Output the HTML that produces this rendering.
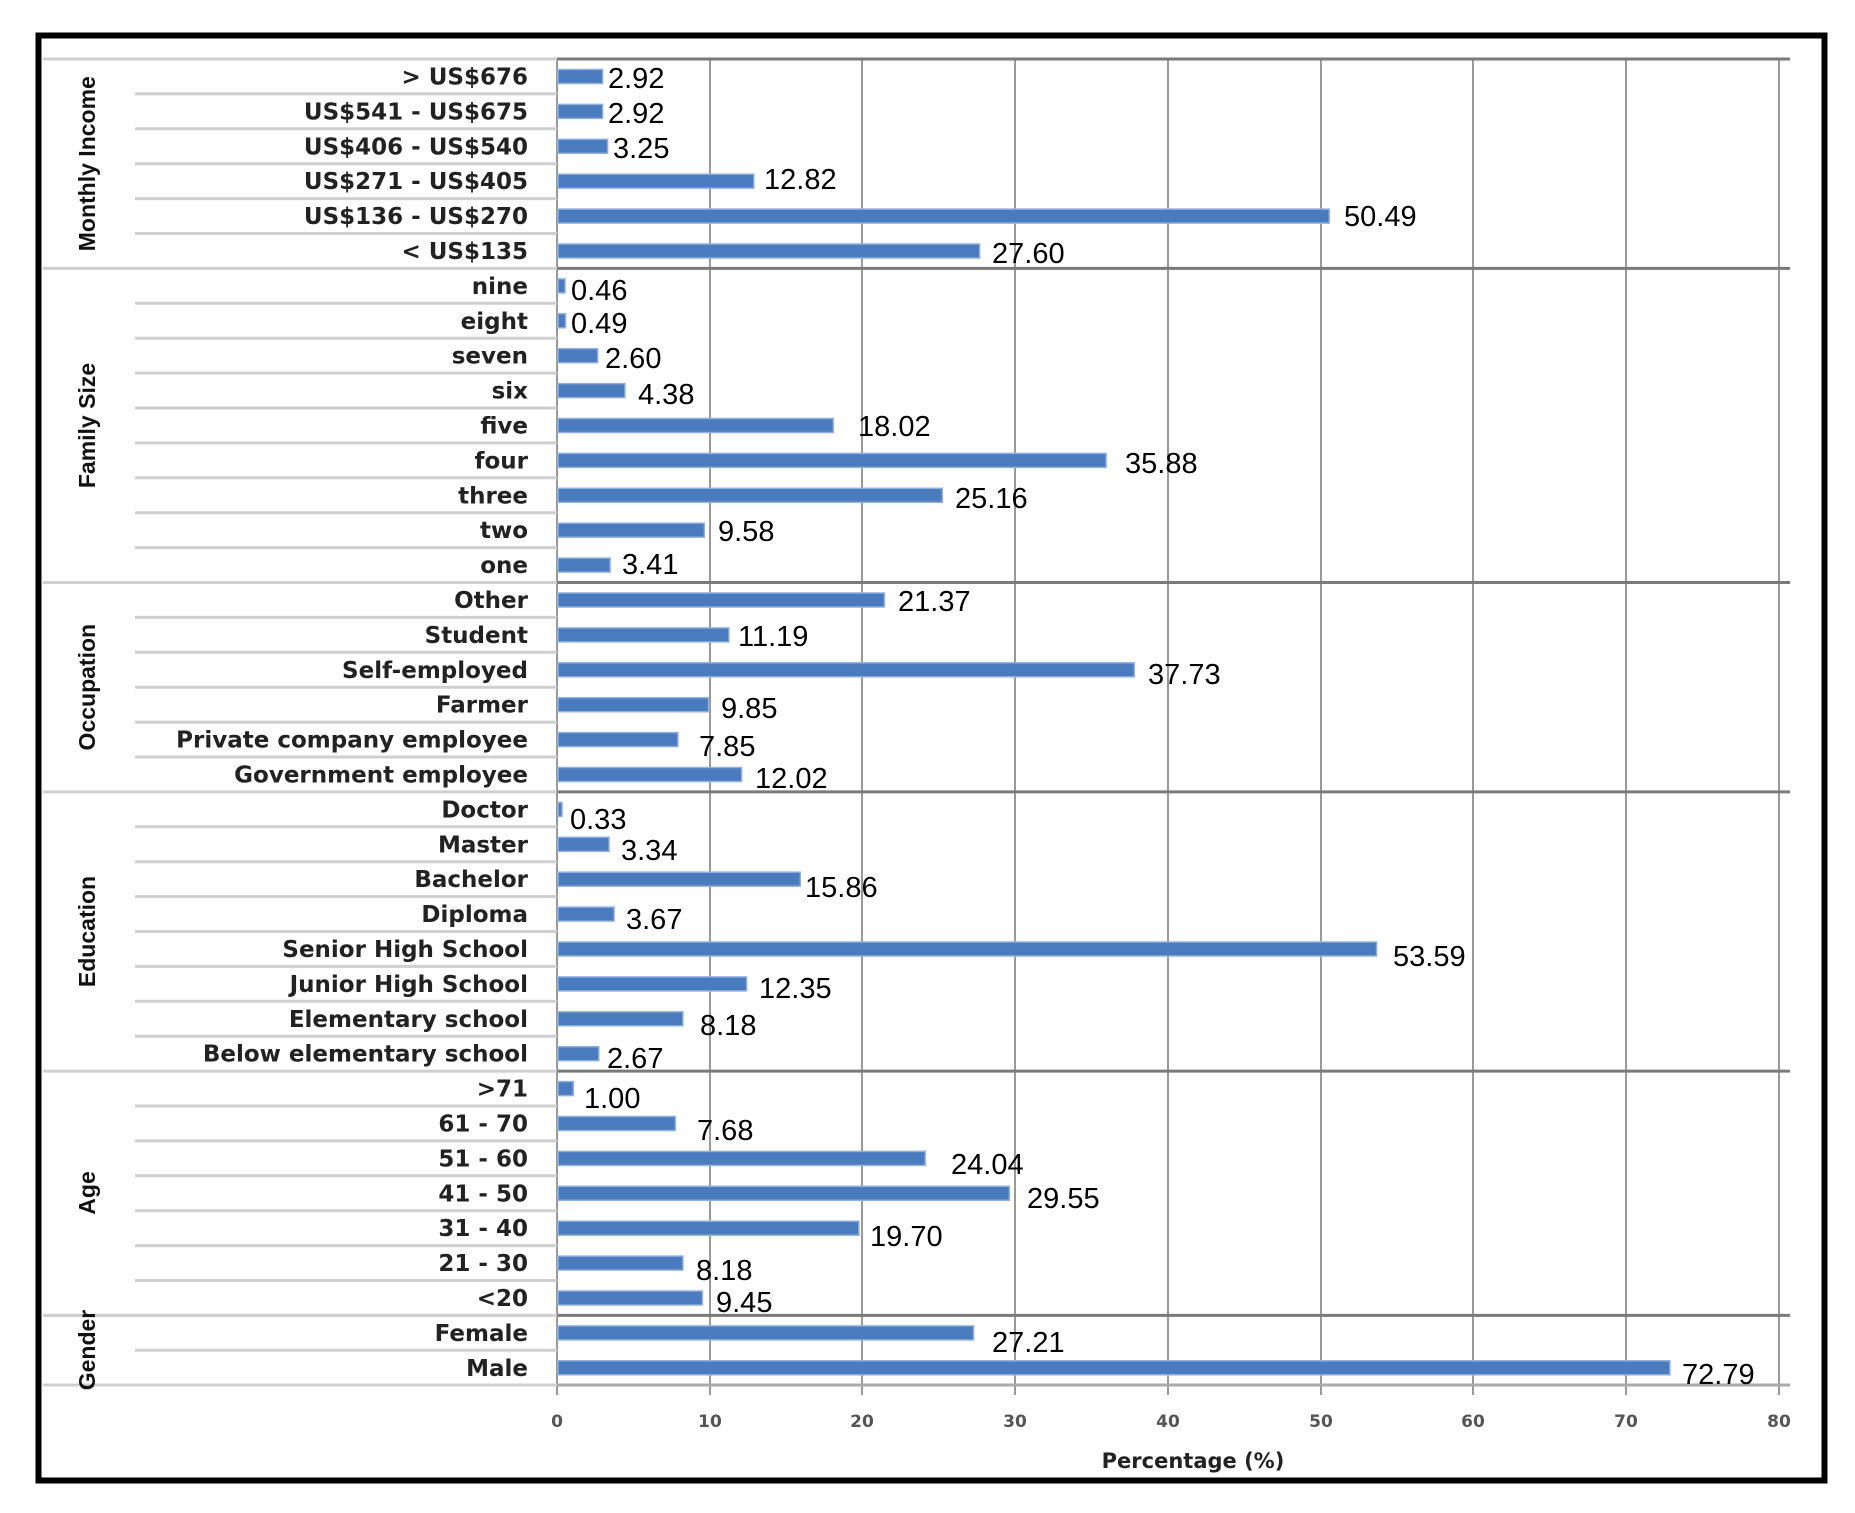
<!DOCTYPE html>
<html><head><meta charset="utf-8"><style>
html,body{margin:0;padding:0;background:#fff}
svg{display:block}
.l{font-family:"DejaVu Sans",sans-serif;font-weight:bold;font-size:23px;fill:#222;text-anchor:end}
.v{font-family:"Liberation Sans Narrow","Liberation Sans",sans-serif;font-size:29px;fill:#000}
.g{font-family:"Liberation Sans Narrow","Liberation Sans",sans-serif;font-weight:bold;font-size:23px;fill:#111;text-anchor:middle}
.t{font-family:"DejaVu Sans",sans-serif;font-weight:bold;font-size:17px;fill:#555;text-anchor:middle}
rect.b{fill:#4a7bbe;stroke:#8fb0dc;stroke-width:1.5}
</style></head><body>
<svg width="1855" height="1513" viewBox="0 0 1855 1513" xmlns="http://www.w3.org/2000/svg">
<rect x="38.5" y="35.5" width="1786" height="1445" fill="#fff" stroke="#000" stroke-width="6"/>
<g stroke="#999" stroke-width="2">
<line x1="557" y1="59" x2="557" y2="1395"/><line x1="710" y1="59" x2="710" y2="1395"/><line x1="862" y1="59" x2="862" y2="1395"/><line x1="1015" y1="59" x2="1015" y2="1395"/><line x1="1168" y1="59" x2="1168" y2="1395"/><line x1="1321" y1="59" x2="1321" y2="1395"/><line x1="1473" y1="59" x2="1473" y2="1395"/><line x1="1626" y1="59" x2="1626" y2="1395"/><line x1="1779" y1="59" x2="1779" y2="1395"/>
</g>
<g stroke="#cfcfcf" stroke-width="3">
<line x1="135" y1="93.9" x2="557" y2="93.9"/><line x1="135" y1="128.8" x2="557" y2="128.8"/><line x1="135" y1="163.7" x2="557" y2="163.7"/><line x1="135" y1="198.6" x2="557" y2="198.6"/><line x1="135" y1="233.5" x2="557" y2="233.5"/>
<line x1="135" y1="303.3" x2="557" y2="303.3"/><line x1="135" y1="338.2" x2="557" y2="338.2"/><line x1="135" y1="373.1" x2="557" y2="373.1"/><line x1="135" y1="408" x2="557" y2="408"/><line x1="135" y1="442.9" x2="557" y2="442.9"/><line x1="135" y1="477.8" x2="557" y2="477.8"/><line x1="135" y1="512.7" x2="557" y2="512.7"/><line x1="135" y1="547.6" x2="557" y2="547.6"/>
<line x1="135" y1="617.4" x2="557" y2="617.4"/><line x1="135" y1="652.3" x2="557" y2="652.3"/><line x1="135" y1="687.2" x2="557" y2="687.2"/><line x1="135" y1="722.1" x2="557" y2="722.1"/><line x1="135" y1="757" x2="557" y2="757"/>
<line x1="135" y1="826.8" x2="557" y2="826.8"/><line x1="135" y1="861.7" x2="557" y2="861.7"/><line x1="135" y1="896.6" x2="557" y2="896.6"/><line x1="135" y1="931.5" x2="557" y2="931.5"/><line x1="135" y1="966.4" x2="557" y2="966.4"/><line x1="135" y1="1001.3" x2="557" y2="1001.3"/><line x1="135" y1="1036.2" x2="557" y2="1036.2"/>
<line x1="135" y1="1106" x2="557" y2="1106"/><line x1="135" y1="1140.9" x2="557" y2="1140.9"/><line x1="135" y1="1175.8" x2="557" y2="1175.8"/><line x1="135" y1="1210.7" x2="557" y2="1210.7"/><line x1="135" y1="1245.6" x2="557" y2="1245.6"/><line x1="135" y1="1280.5" x2="557" y2="1280.5"/>
<line x1="135" y1="1350.3" x2="557" y2="1350.3"/>
<line x1="43" y1="59" x2="557" y2="59"/><line x1="43" y1="268.4" x2="557" y2="268.4"/><line x1="43" y1="582.5" x2="557" y2="582.5"/><line x1="43" y1="791.9" x2="557" y2="791.9"/><line x1="43" y1="1071.1" x2="557" y2="1071.1"/><line x1="43" y1="1315.4" x2="557" y2="1315.4"/><line x1="43" y1="1385" x2="557" y2="1385"/>
</g>
<g stroke="#7a7a7a" stroke-width="3">
<line x1="557" y1="59" x2="1790" y2="59"/><line x1="557" y1="268.4" x2="1790" y2="268.4"/><line x1="557" y1="582.5" x2="1790" y2="582.5"/><line x1="557" y1="791.9" x2="1790" y2="791.9"/><line x1="557" y1="1071.1" x2="1790" y2="1071.1"/><line x1="557" y1="1315.4" x2="1790" y2="1315.4"/>
</g>
<line x1="557" y1="1385" x2="1790" y2="1385" stroke="#aaa" stroke-width="3"/>
<text class="g" transform="translate(95,163.7) rotate(-90)">Monthly Income</text>
<text class="g" transform="translate(95,425.5) rotate(-90)">Family Size</text>
<text class="g" transform="translate(95,687.2) rotate(-90)">Occupation</text>
<text class="g" transform="translate(95,931.5) rotate(-90)">Education</text>
<text class="g" transform="translate(95,1193) rotate(-90)">Age</text>
<text class="g" transform="translate(95,1350) rotate(-90)">Gender</text>
<g>
<text class="l" x="528" y="84.5">&gt; US$676</text><rect class="b" x="558" y="69.5" width="44.6" height="14"/><text class="v" x="608" y="88">2.92</text>
<text class="l" x="528" y="119.4">US$541 - US$675</text><rect class="b" x="558" y="104.4" width="44.6" height="14"/><text class="v" x="608" y="123">2.92</text>
<text class="l" x="528" y="154.3">US$406 - US$540</text><rect class="b" x="558" y="139.3" width="49.6" height="14"/><text class="v" x="613" y="158">3.25</text>
<text class="l" x="528" y="189.2">US$271 - US$405</text><rect class="b" x="558" y="174.2" width="195.8" height="14"/><text class="v" x="764" y="189">12.82</text>
<text class="l" x="528" y="224.1">US$136 - US$270</text><rect class="b" x="558" y="209.1" width="771.2" height="14"/><text class="v" x="1344" y="226">50.49</text>
<text class="l" x="528" y="259">&lt; US$135</text><rect class="b" x="558" y="244" width="421.6" height="14"/><text class="v" x="992" y="263">27.60</text>

<text class="l" x="528" y="293.9">nine</text><rect class="b" x="558" y="278.9" width="7" height="14"/><text class="v" x="571" y="300">0.46</text>
<text class="l" x="528" y="328.8">eight</text><rect class="b" x="558" y="313.8" width="7.5" height="14"/><text class="v" x="571" y="333">0.49</text>
<text class="l" x="528" y="363.7">seven</text><rect class="b" x="558" y="348.7" width="39.7" height="14"/><text class="v" x="605" y="368">2.60</text>
<text class="l" x="528" y="398.6">six</text><rect class="b" x="558" y="383.6" width="66.9" height="14"/><text class="v" x="638" y="404">4.38</text>
<text class="l" x="528" y="433.5">five</text><rect class="b" x="558" y="418.5" width="275.3" height="14"/><text class="v" x="858" y="436">18.02</text>
<text class="l" x="528" y="468.4">four</text><rect class="b" x="558" y="453.4" width="548.1" height="14"/><text class="v" x="1125" y="473">35.88</text>
<text class="l" x="528" y="503.3">three</text><rect class="b" x="558" y="488.3" width="384.3" height="14"/><text class="v" x="955" y="508">25.16</text>
<text class="l" x="528" y="538.2">two</text><rect class="b" x="558" y="523.2" width="146.3" height="14"/><text class="v" x="718" y="541">9.58</text>
<text class="l" x="528" y="573.1">one</text><rect class="b" x="558" y="558.1" width="52.1" height="14"/><text class="v" x="622" y="574">3.41</text>

<text class="l" x="528" y="608">Other</text><rect class="b" x="558" y="593" width="326.4" height="14"/><text class="v" x="898" y="611">21.37</text>
<text class="l" x="528" y="642.9">Student</text><rect class="b" x="558" y="627.9" width="170.9" height="14"/><text class="v" x="738" y="646">11.19</text>
<text class="l" x="528" y="677.8">Self-employed</text><rect class="b" x="558" y="662.8" width="576.3" height="14"/><text class="v" x="1148" y="684">37.73</text>
<text class="l" x="528" y="712.7">Farmer</text><rect class="b" x="558" y="697.7" width="150.5" height="14"/><text class="v" x="721" y="718">9.85</text>
<text class="l" x="528" y="747.6">Private company employee</text><rect class="b" x="558" y="732.6" width="119.9" height="14"/><text class="v" x="699" y="756">7.85</text>
<text class="l" x="528" y="782.5">Government employee</text><rect class="b" x="558" y="767.5" width="183.6" height="14"/><text class="v" x="755" y="788">12.02</text>

<text class="l" x="528" y="817.4">Doctor</text><rect class="b" x="558" y="802.4" width="4" height="14"/><text class="v" x="570" y="829">0.33</text>
<text class="l" x="528" y="852.3">Master</text><rect class="b" x="558" y="837.3" width="51" height="14"/><text class="v" x="621" y="860">3.34</text>
<text class="l" x="528" y="887.2">Bachelor</text><rect class="b" x="558" y="872.2" width="242.3" height="14"/><text class="v" x="805" y="897">15.86</text>
<text class="l" x="528" y="922.1">Diploma</text><rect class="b" x="558" y="907.1" width="56.1" height="14"/><text class="v" x="626" y="929">3.67</text>
<text class="l" x="528" y="957">Senior High School</text><rect class="b" x="558" y="942" width="818.6" height="14"/><text class="v" x="1393" y="966">53.59</text>
<text class="l" x="528" y="991.9">Junior High School</text><rect class="b" x="558" y="976.9" width="188.6" height="14"/><text class="v" x="759" y="998">12.35</text>
<text class="l" x="528" y="1026.8">Elementary school</text><rect class="b" x="558" y="1011.8" width="124.9" height="14"/><text class="v" x="700" y="1035">8.18</text>
<text class="l" x="528" y="1061.7">Below elementary school</text><rect class="b" x="558" y="1046.7" width="40.8" height="14"/><text class="v" x="607" y="1068">2.67</text>

<text class="l" x="528" y="1096.6">&gt;71</text><rect class="b" x="558" y="1081.6" width="15.3" height="14"/><text class="v" x="584" y="1108">1.00</text>
<text class="l" x="528" y="1131.5">61 - 70</text><rect class="b" x="558" y="1116.5" width="117.3" height="14"/><text class="v" x="697" y="1140">7.68</text>
<text class="l" x="528" y="1166.4">51 - 60</text><rect class="b" x="558" y="1151.4" width="367.2" height="14"/><text class="v" x="951" y="1174">24.04</text>
<text class="l" x="528" y="1201.3">41 - 50</text><rect class="b" x="558" y="1186.3" width="451.4" height="14"/><text class="v" x="1027" y="1208">29.55</text>
<text class="l" x="528" y="1236.2">31 - 40</text><rect class="b" x="558" y="1221.2" width="300.9" height="14"/><text class="v" x="870" y="1246">19.70</text>
<text class="l" x="528" y="1271.1">21 - 30</text><rect class="b" x="558" y="1256.1" width="124.9" height="14"/><text class="v" x="696" y="1280">8.18</text>
<text class="l" x="528" y="1306">&lt;20</text><rect class="b" x="558" y="1291" width="144.4" height="14"/><text class="v" x="716" y="1312">9.45</text>

<text class="l" x="528" y="1340.9">Female</text><rect class="b" x="558" y="1325.9" width="415.6" height="14"/><text class="v" x="992" y="1352">27.21</text>
<text class="l" x="528" y="1375.8">Male</text><rect class="b" x="558" y="1360.8" width="1111.9" height="14"/><text class="v" x="1682" y="1384">72.79</text>
</g>
<text class="t" x="557" y="1427">0</text><text class="t" x="710" y="1427">10</text><text class="t" x="862" y="1427">20</text><text class="t" x="1015" y="1427">30</text><text class="t" x="1168" y="1427">40</text><text class="t" x="1321" y="1427">50</text><text class="t" x="1473" y="1427">60</text><text class="t" x="1626" y="1427">70</text><text class="t" x="1779" y="1427">80</text>
<text class="t" x="1193" y="1468" style="font-size:21px;fill:#222">Percentage (%)</text>
</svg>
</body></html>
